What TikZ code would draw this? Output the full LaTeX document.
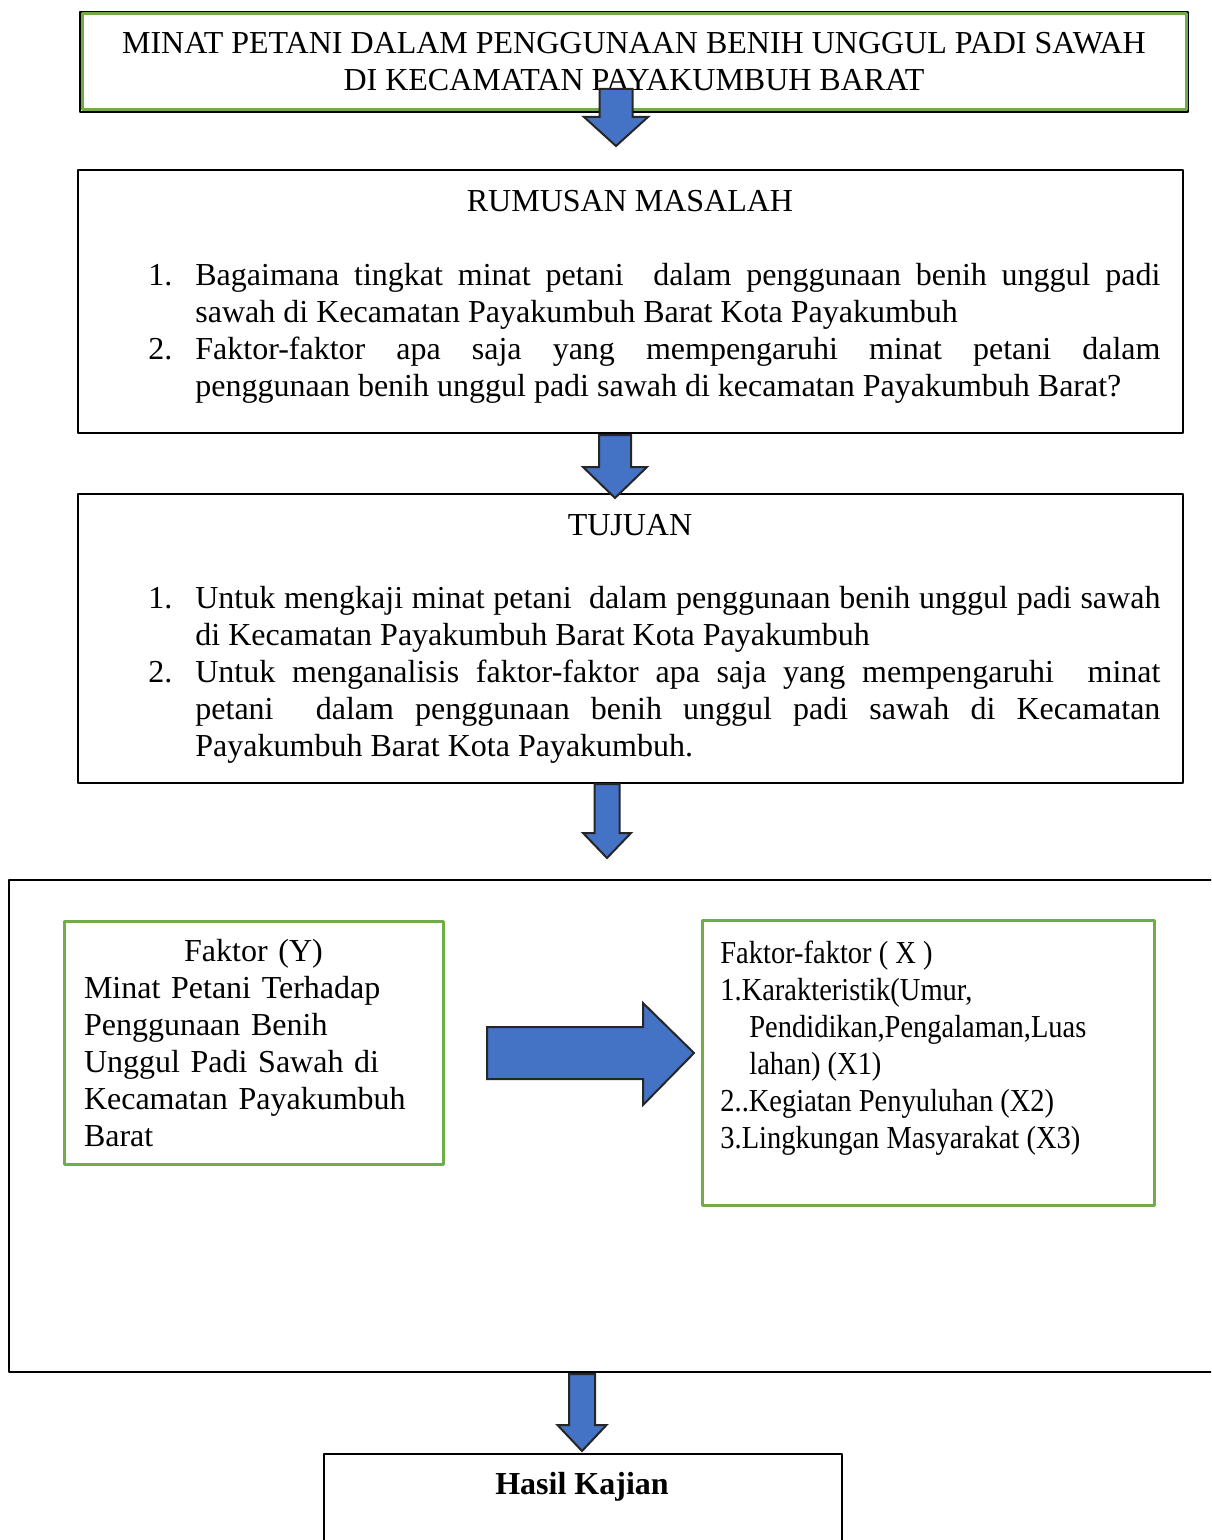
\documentclass[tikz,border=0pt]{standalone}
\usepackage{fontspec}
\setmainfont{Liberation Serif}
\newfontfamily\narrowserif[FakeStretch=0.89]{Liberation Serif}
\hyphenpenalty=10000 \exhyphenpenalty=10000
\definecolor{boxgreen}{RGB}{112,173,71}
\definecolor{arrowblue}{RGB}{68,114,196}
\tikzset{
  plainbox/.style={draw=black, line width=1pt, inner sep=0pt},
  greenbox/.style={draw=boxgreen, line width=1.5pt, inner sep=0pt},
  listtext/.style={text width=506pt, align=justify, anchor=north west, inner sep=0pt},
  blockarrow/.style={fill=arrowblue, draw=black!85, line width=1pt, line join=miter},
}
\newcommand\numitem[1]{\hangindent=23.5pt\hangafter=1\noindent\makebox[23.5pt][l]{#1}}
\begin{document}
\begin{tikzpicture}[x=0.5pt, y=-0.5pt, font=\fontsize{16}{18.5}\selectfont, line join=round]
	\clip (0,0) rectangle (1211,1540);
	% judul
	\node[plainbox, minimum width=554pt, minimum height=50pt, align=center] (judul) at (634,62)
	{MINAT PETANI DALAM PENGGUNAAN BENIH UNGGUL PADI SAWAH\\DI KECAMATAN PAYAKUMBUH BARAT};
	\draw[boxgreen, line width=1.5pt] ([xshift=1.5pt,yshift=-1.5pt]judul.north west) rectangle ([xshift=-1.5pt,yshift=1.5pt]judul.south east);
	% rumusan masalah
	\node[plainbox, minimum width=552.5pt, minimum height=131.5pt] (rumusan) at (630.5,301.5) {};
	\node (rumusanjudul) at (630,201) {RUMUSAN MASALAH};
	\node[listtext] (rumusan1) at (148,263) {\numitem{1.}Bagaimana tingkat minat petani\ \ dalam penggunaan benih unggul padi\linebreak
		sawah di Kecamatan Payakumbuh Barat Kota Payakumbuh\par};
	\node[listtext] (rumusan2) at (148,337) {\numitem{2.}Faktor-faktor apa saja yang mempengaruhi minat petani dalam\linebreak
		penggunaan benih unggul padi sawah di kecamatan Payakumbuh Barat?\par};
	% tujuan
	\node[plainbox, minimum width=552.5pt, minimum height=144.5pt] (tujuan) at (630.5,638.5) {};
	\node (tujuanjudul) at (630,525) {TUJUAN};
	\node[listtext] (tujuan1) at (148,586) {\numitem{1.}Untuk mengkaji minat petani\ \ dalam penggunaan benih unggul padi sawah\linebreak
		di Kecamatan Payakumbuh Barat Kota Payakumbuh\par};
	\node[listtext] (tujuan2) at (148,660) {\numitem{2.}Untuk menganalisis faktor-faktor apa saja yang mempengaruhi\ \ minat\linebreak
		petani\ \ dalam penggunaan benih unggul padi sawah di Kecamatan\linebreak
		Payakumbuh Barat Kota Payakumbuh.\par};
	% kerangka faktor
	\node[plainbox, minimum width=610.5pt, minimum height=246pt] (kerangka) at (619.5,1126) {};
	\node[greenbox, minimum width=189.5pt, minimum height=121.5pt, text width=169.5pt, inner xsep=10pt, align=left] (faktory) at (253.5,1043)
	{{\centering Faktor (Y)\par}Minat Petani Terhadap\\Penggunaan Benih\\Unggul Padi Sawah di\\Kecamatan Payakumbuh\\Barat};
	\node[greenbox, minimum width=226pt, minimum height=142.5pt] (faktorx) at (928,1062.5) {};
	\node[anchor=north west, inner sep=0pt, align=left, font=\narrowserif\fontsize{16}{18.5}\selectfont] (faktorxisi) at (720,941)
	{Faktor-faktor ( X )\\1.Karakteristik(Umur,\\\hspace*{14.5pt}Pendidikan,Pengalaman,Luas\\\hspace*{14.5pt}lahan) (X1)\\2..Kegiatan Penyuluhan (X2)\\3.Lingkungan Masyarakat (X3)};
	% hasil
	\node[plainbox, minimum width=259pt, minimum height=73pt] (hasil) at (583,1527) {};
	\node[font=\fontsize{16}{18.5}\selectfont\bfseries] (hasiljudul) at (582,1487) {Hasil Kajian};
	% panah
	\foreach \xc/\ya/\yb/\yc/\ws/\wh in {616/89/117/146/16.5/32, 615/435/467/498/16/32, 607/784/833/858/12.5/24, 582/1374/1425/1451/13/24.5}
	\draw[blockarrow] ({\xc-\ws},\ya) -- ({\xc+\ws},\ya) -- ({\xc+\ws},\yb) -- ({\xc+\wh},\yb) -- (\xc,\yc) -- ({\xc-\wh},\yb) -- ({\xc-\ws},\yb) -- cycle;
	\draw[blockarrow] (487,1027) -- (643,1027) -- (643,1003) -- (694,1053) -- (643,1105) -- (643,1079) -- (487,1079) -- cycle;
\end{tikzpicture}
\end{document}
